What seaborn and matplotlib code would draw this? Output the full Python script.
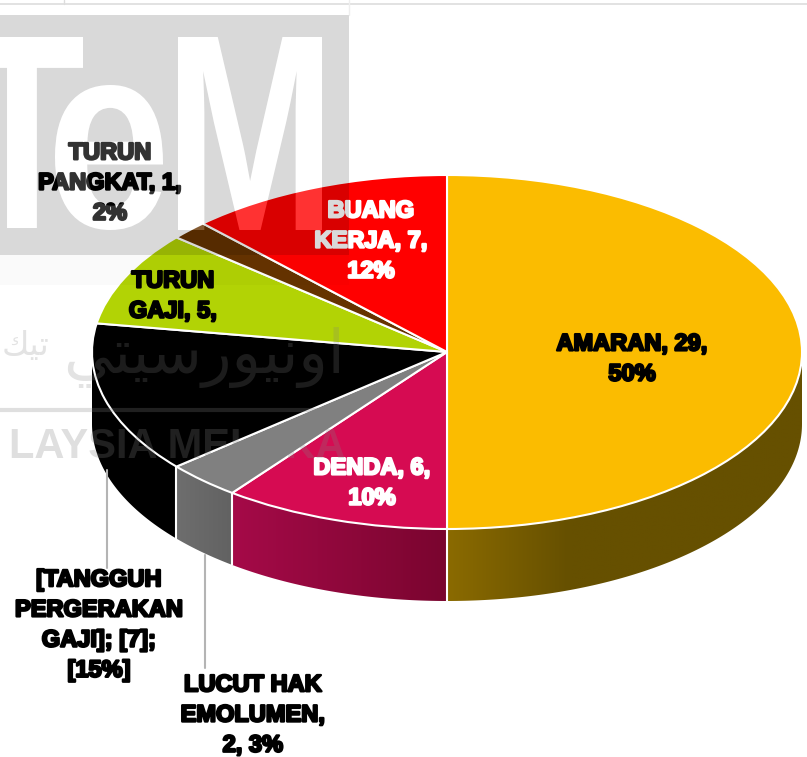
import numpy as np
import matplotlib
matplotlib.use('Agg')
import matplotlib.pyplot as plt
import matplotlib.patheffects as pe
from matplotlib.font_manager import FontProperties
from matplotlib.patches import PathPatch, Polygon
from matplotlib.path import Path
from matplotlib.textpath import TextPath
from matplotlib.transforms import Affine2D
from matplotlib.colors import to_rgb
import seaborn as sns

# slice sizes and their printed labels (the printed 7/15% is what the picture says)
categories = ['AMARAN', 'DENDA', 'LUCUT HAK EMOLUMEN', 'TANGGUH PERGERAKAN GAJI',
              'TURUN GAJI', 'TURUN PANGKAT', 'BUANG KERJA']
values = [29, 6, 2, 8, 5, 1, 7]
top_colors = ['#fbbc00', '#d60b52', '#808080', '#000000', '#b2d305', '#663300', '#ff0000']
wall_left = ['#8a6a00', '#a50a48', '#6e6e6e', '#000000', '#000000', '#000000', '#000000']
wall_right = ['#665000', '#7a052f', '#626262', '#000000', '#000000', '#000000', '#000000']
labels = ['AMARAN, 29,\n50%', 'DENDA, 6,\n10%', 'LUCUT HAK\nEMOLUMEN,\n2, 3%',
          '[TANGGUH\nPERGERAKAN\nGAJI]; [7];\n[15%]', 'TURUN\nGAJI, 5,',
          'TURUN\nPANGKAT, 1,\n2%', 'BUANG\nKERJA, 7,\n12%']
label_colors = ['black', 'white', 'black', 'black', 'black', 'black', 'white']
label_x = [632, 372, 253, 99, 173, 110, 371]
label_y = [359, 483, 715, 625, 296, 183, 241]

W, H = 807, 757
cx, cy, rx, ry, depth = 447, 352, 355, 177, 72

sns.set_theme(style='white')
fig = plt.figure(figsize=(W / 100, H / 100), dpi=100, facecolor='white')
ax = fig.add_axes([0, 0, 1, 1])

# top face, squashed into an ellipse by the axis limits
ax.pie(values, colors=sns.color_palette(top_colors), startangle=90, counterclock=False,
       wedgeprops={'edgecolor': 'white', 'linewidth': 1.5, 'zorder': 3})
ax.set_aspect('auto')
xlim = (-cx / rx, (W - cx) / rx)
ylim = ((cy - H) / ry, cy / ry)
d = depth / ry

# side walls, only the front half of the disc shows
edges = np.cumsum([0] + values) / sum(values) * 2 * np.pi
for i in range(len(values)):
    t0, t1 = max(edges[i], np.pi / 2), min(edges[i + 1], 3 * np.pi / 2)
    if t1 <= t0:
        continue
    t = np.linspace(t0, t1, 120)
    xs, ys = np.sin(t), np.cos(t)
    poly = Polygon(np.r_[np.c_[xs, ys], np.c_[xs, ys - d][::-1]], closed=True,
                   facecolor='none', edgecolor='none', transform=ax.transData)
    ax.add_patch(poly)
    left, right = xs.min(), xs.max()
    grad_x = np.linspace(0, 1, 64)
    if i == 0:
        # amaran darkens over the first third then stays flat
        grad_x = np.clip(grad_x / 0.34, 0, 1)
    c0, c1 = np.array(to_rgb(wall_left[i])), np.array(to_rgb(wall_right[i]))
    grad = c0 + (c1 - c0) * grad_x[:, None]
    im = ax.imshow(grad[None, :, :], extent=(left, right, ys.min() - d - 0.02, ys.max() + 0.02),
                   aspect='auto', zorder=1, interpolation='bilinear')
    im.set_clip_path(poly)

for e in edges:
    if np.pi * 0.99 <= e <= 3 * np.pi / 2:
        ax.vlines(np.sin(e), np.cos(e) - d, np.cos(e), color='white', linewidth=1.5, zorder=2)
ax.set_xlim(xlim)
ax.set_ylim(ylim)
ax.axis('off')

# overlay in pixel coordinates for labels and the scanned watermark
top = fig.add_axes([0, 0, 1, 1], facecolor='none')
top.set_xlim(0, W)
top.set_ylim(0, H)
top.axis('off')


def yy(p):
    return H - p


top.plot([107, 107], [yy(470), yy(568)], color='#b4b4b4', linewidth=1.5, zorder=4)
top.plot([205, 205], [yy(555), yy(668)], color='#b4b4b4', linewidth=1.5, zorder=4)

for txt, col, x, y in zip(labels, label_colors, label_x, label_y):
    top.text(x, yy(y), txt, color=col, ha='center', va='center', fontsize=17,
             family='Liberation Sans', fontweight='bold', linespacing=1.4, zorder=5,
             path_effects=[pe.withStroke(linewidth=1.7, foreground=col)])

# watermark sits over the chart
fp = FontProperties(family='Liberation Sans', weight='bold')


def letter(ch, x0, x1, y0, y1):
    p = TextPath((0, 0), ch, size=100, prop=fp)
    b = p.get_extents()
    tr = Affine2D().translate(-b.x0, -b.y0).scale((x1 - x0) / b.width, (y0 - y1) / b.height)
    return p.transformed(tr.translate(x0, yy(y0)))


letters = [letter('T', -39, 83, 228, 37), letter('e', 55, 163, 230, 85), letter('M', 178, 322, 230, 37)]
rect = Path([(0, yy(255)), (349, yy(255)), (349, yy(15)), (0, yy(15)), (0, yy(255))],
            closed=True)
top.add_patch(PathPatch(Path.make_compound_path(rect, *letters), facecolor='black', alpha=0.15,
                        linewidth=0, zorder=10))
top.add_patch(PathPatch(Path.make_compound_path(*letters), facecolor='white', alpha=0.2,
                        linewidth=0, zorder=10))
top.fill_between([0, 349], yy(285), yy(255), color='black', alpha=0.02, linewidth=0, zorder=10)
top.plot([0, W], [yy(4), yy(4)], color='#dddddd', linewidth=1.2, zorder=10)
top.plot([64, 64], [yy(0), yy(4)], color='#dddddd', linewidth=1, zorder=10)
top.plot([349, 349], [yy(0), yy(15)], color='#eeeeee', linewidth=1, zorder=10)
top.plot([0, 349], [yy(410), yy(410)], color='#808080', alpha=0.25, linewidth=3, zorder=10)
top.text(345, yy(447), 'LAYSIA MELAKA', color='#808080', alpha=0.25, ha='right', va='center',
         fontsize=30, family='Liberation Sans', fontweight='bold', zorder=10)
# jawi text written in visual order with presentation forms, no shaping in matplotlib
jawi_right = '\ufef2\ufe98\ufef4\ufeb3\ufead\ufeee\ufef4\ufee7\ufeed\ufe8d'
jawi_left = '\ufeda\ufef4\ufe97'
top.text(345, yy(358), jawi_right, color='#808080', alpha=0.22, ha='right', va='center',
         fontsize=44, family='DejaVu Sans', zorder=10)
top.text(2, yy(345), jawi_left, color='#808080', alpha=0.22, ha='left', va='center',
         fontsize=24, family='DejaVu Sans', zorder=10)

fig.savefig('out.png', dpi=100)
